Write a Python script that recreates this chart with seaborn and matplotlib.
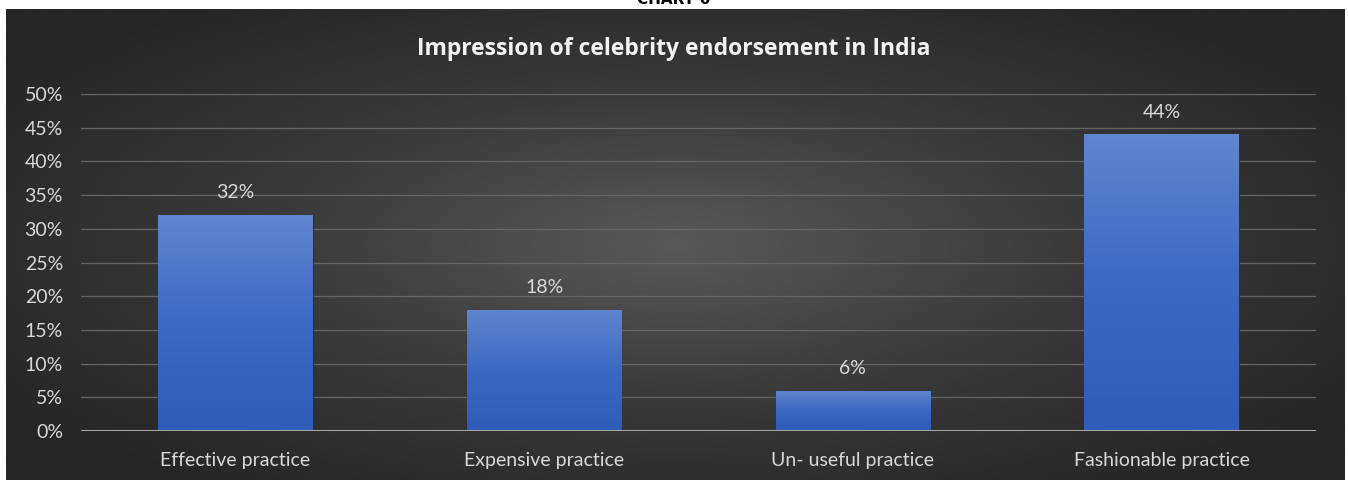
import numpy as np
import pandas as pd
import matplotlib
matplotlib.use('Agg')
import matplotlib.pyplot as plt
from matplotlib.colors import LinearSegmentedColormap
import seaborn as sns

# chart data
categories = ['Effective practice', 'Expensive practice', 'Un- useful practice', 'Fashionable practice']
shares = [0.32, 0.18, 0.06, 0.44]
y_ticks = [0, 0.05, 0.10, 0.15, 0.20, 0.25, 0.30, 0.35, 0.40, 0.45, 0.50]

df = pd.DataFrame({'category': categories, 'share': shares})

sns.set_theme(style='dark')
plt.rcParams['font.family'] = ['Lato', 'DejaVu Sans']

W, H = 1348, 480
fig = plt.figure(figsize=(W / 100, H / 100), dpi=100)
fig.patch.set_facecolor('white')

# dark radial background panel
bg = fig.add_axes([6 / W, 0, (1345 - 6) / W, (480 - 9) / H])
yy, xx = np.mgrid[-1:1:300j, -1:1:800j]
r = np.sqrt(xx ** 2 + (yy * 0.95) ** 2) / np.sqrt(2)
bg_cmap = LinearSegmentedColormap.from_list('bg', ['#595959', '#3a3a3a', '#262626'])
bg.imshow(r, cmap=bg_cmap, aspect='auto', extent=[0, 1, 0, 1], vmin=0, vmax=0.85)
bg.set_axis_off()

# caption above the panel, cut off at the top like the source
fig.text(0.5, 1.0, 'CHART 6', ha='center', va='center', fontsize=11,
         fontweight='bold', color='black', family=['DejaVu Sans'])

ax = fig.add_axes([81 / W, (480 - 431) / H, (1316 - 81) / W, (431 - 94) / H])
ax.patch.set_alpha(0)

sns.barplot(data=df, x='category', y='share', ax=ax, color='#4472c4', width=0.5,
            edgecolor='#1f2f55', linewidth=0.8, zorder=3)

# vertical gradient inside each bar
bar_cmap = LinearSegmentedColormap.from_list('bar', ['#2e5cb8', '#3b69c4', '#6186ce'])
grad = np.linspace(0, 1, 256).reshape(-1, 1)
for p in ax.patches:
    x0, y0 = p.get_x(), p.get_y()
    im = ax.imshow(grad, cmap=bar_cmap, aspect='auto', origin='lower',
                   extent=[x0, x0 + p.get_width(), y0, y0 + p.get_height()], zorder=3.5)
    im.set_clip_path(p)

ax.set_xlim(-0.5, len(categories) - 0.5)
ax.set_ylim(0, 0.5)
ax.set_yticks(y_ticks)
ax.set_yticklabels([f'{int(round(t * 100))}%' for t in y_ticks])
ax.grid(axis='y', color='#666666', linewidth=0.9, zorder=0)
ax.grid(axis='x', visible=False)
ax.axhline(0, color='#a6a6a6', linewidth=2.2, zorder=5)
for s in ax.spines.values():
    s.set_visible(False)

ax.tick_params(axis='y', length=0, pad=13, labelsize=14, labelcolor='#d9d9d9')
ax.tick_params(axis='x', length=0, pad=15, labelsize=14, labelcolor='#d9d9d9')
ax.set_xlabel('')
ax.set_ylabel('')

for i, v in enumerate(shares):
    ax.annotate(f'{int(round(v * 100))}%', (i, v), xytext=(0, 10), textcoords='offset points',
                ha='center', va='bottom', fontsize=14, color='#d9d9d9')

fig.text(674 / W, (480 - 49) / H, 'Impression of celebrity endorsement in India',
         ha='center', va='center', fontsize=16.5, fontweight='bold', color='#f2f2f2',
         family=['Open Sans', 'DejaVu Sans'])

fig.savefig('out.png', dpi=100)
